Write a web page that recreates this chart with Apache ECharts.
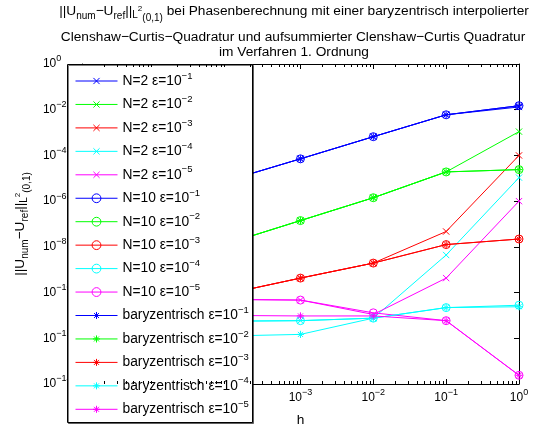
<!DOCTYPE html>
<html><head><meta charset="utf-8">
<script src="https://cdn.jsdelivr.net/npm/echarts@6/dist/echarts.min.js"></script>
<style>html,body{margin:0;padding:0;background:#fff}#c{width:536px;height:432px}</style>
</head><body><div id="c"></div>
<script>
// ---- data ----
const hValues = [1e-6, 1e-5, 1e-4, 1e-3, 1e-2, 1e-1, 1];
const xTickExponents = [-6, -5, -4, -3, -2, -1, 0];
const yTickExponents = [-14, -12, -10, -8, -6, -4, -2, 0];

const n2e1  = [6.6e-8, 7.6e-7, 7.9e-6, 7.1e-5, 6.6e-4, 6.0e-3, 1.32e-2];
const n2e2  = [1.78e-10, 1.58e-9, 1.41e-8, 1.41e-7, 1.41e-6, 1.9e-5, 1.1e-3];
const n2e3  = [3.8e-11, 5.0e-11, 8.9e-11, 4.3e-10, 1.95e-9, 4.7e-8, 1.0e-4];
const n2e4  = [1.78e-11, 7.9e-12, 5.6e-12, 5.9e-12, 7.6e-12, 4.4e-9, 1.07e-5];
const n2e5  = [1.6e-10, 7.9e-11, 5.0e-11, 4.7e-11, 1.1e-11, 4.3e-10, 1.0e-6];
const n10e1 = [6.6e-8, 7.6e-7, 7.9e-6, 7.1e-5, 6.6e-4, 6.0e-3, 1.5e-2];
const n10e2 = [1.78e-10, 1.58e-9, 1.41e-8, 1.41e-7, 1.41e-6, 1.9e-5, 2.4e-5];
const n10e3 = [3.8e-11, 5.0e-11, 8.9e-11, 4.3e-10, 1.95e-9, 1.26e-8, 2.2e-8];
const n10e4 = [1.78e-11, 7.9e-12, 5.6e-12, 5.9e-12, 7.6e-12, 2.2e-11, 2.8e-11];
const n10e5 = [1.6e-10, 7.9e-11, 5.0e-11, 4.7e-11, 1.3e-11, 5.9e-12, 2.4e-14];
const bare1 = [6.6e-8, 7.6e-7, 7.9e-6, 7.1e-5, 6.6e-4, 6.0e-3, 1.5e-2];
const bare2 = [1.78e-10, 1.58e-9, 1.41e-8, 1.41e-7, 1.41e-6, 1.9e-5, 2.4e-5];
const bare3 = [3.8e-11, 5.0e-11, 8.9e-11, 4.3e-10, 1.95e-9, 1.26e-8, 2.2e-8];
const bare4 = [1.1e-12, 1.2e-12, 1.26e-12, 1.48e-12, 7.6e-12, 2.2e-11, 2.4e-11];
const bare5 = [1.0e-11, 1.0e-11, 1.0e-11, 9.5e-12, 9.5e-12, 5.9e-12, 2.4e-14];

const seriesNames = [
  'N=2 ε=10^−1','N=2 ε=10^−2','N=2 ε=10^−3','N=2 ε=10^−4','N=2 ε=10^−5',
  'N=10 ε=10^−1','N=10 ε=10^−2','N=10 ε=10^−3','N=10 ε=10^−4','N=10 ε=10^−5',
  'baryzentrisch ε=10^−1','baryzentrisch ε=10^−2','baryzentrisch ε=10^−3','baryzentrisch ε=10^−4','baryzentrisch ε=10^−5'
];
const seriesValues = [n2e1,n2e2,n2e3,n2e4,n2e5,n10e1,n10e2,n10e3,n10e4,n10e5,bare1,bare2,bare3,bare4,bare5];

// ---- styling ----
const colors = ['#0000ff','#00ff00','#ff0000','#00ffff','#ff00ff'];
const SYM_X = 'path://M0,0M10,10M1.5,1.5L8.5,8.5M8.5,1.5L1.5,8.5';
const SYM_STAR = 'path://M0,0M10,10M5,1L5,9M1,5L9,5M2.2,2.2L7.8,7.8M7.8,2.2L2.2,7.8';
const symbols = [SYM_X, 'circle', SYM_STAR];
const symSizes = [9, 8, 9];
const FONT = 'Liberation Sans, Arial, Helvetica, sans-serif';
const TF = 13.7;

const series = seriesNames.map((name, i) => {
  const g = Math.floor(i / 5), c = colors[i % 5];
  return {
    name, type: 'line',
    data: hValues.map((h, k) => [h, seriesValues[i][k]]),
    symbol: symbols[g], symbolSize: symSizes[g], symbolKeepAspect: true,
    showSymbol: true,
    lineStyle: { color: c, width: 1 },
    itemStyle: { color: 'rgba(0,0,0,0)', borderColor: c, borderWidth: 1 },
    emphasis: { disabled: true },
    animation: false, z: 2
  };
});

// minor ticks on log x axis (axis decoration)
const minorX = [];
for (let e = -6; e < 0; e++) for (let m = 2; m <= 9; m++) minorX.push([m * Math.pow(10, e), 1]);
series.push({
  type: 'custom', data: minorX, silent: true, animation: false, z: 3,
  encode: { x: 0, y: 1 },
  renderItem: (params, api) => {
    const p = api.coord([api.value(0), api.value(1)]);
    const cs = params.coordSys;
    const x = Math.round(p[0]) + 0.5;
    const yb = cs.y + cs.height, yt = cs.y;
    return { type: 'group', children: [
      { type: 'line', shape: { x1: x, y1: yb, x2: x, y2: yb - 3 }, style: { stroke: '#000', lineWidth: 1 } },
      { type: 'line', shape: { x1: x, y1: yt, x2: x, y2: yt + 3 }, style: { stroke: '#000', lineWidth: 1 } }
    ]};
  }
});

const supRich = { fontSize: 9, padding: [0, 0, 10, 0], lineHeight: 9, color: '#000', fontFamily: FONT };
const expLabel = v => {
  const e = Math.round(Math.log10(v));
  return '{b|10}{sup|' + (e < 0 ? '−' + (-e) : e) + '}';
};
const axisRich = { b: { fontSize: 12, lineHeight: 14, color: '#000', fontFamily: FONT }, sup: supRich };

const subStyle = (pad, fs) => ({ fontSize: fs, padding: pad, lineHeight: fs, color: '#000', fontFamily: FONT, fontWeight: 'normal' });
const titleRich = {
  b: { fontSize: TF, lineHeight: 16, color: '#000', fontFamily: FONT, fontWeight: 'normal' },
  s: subStyle([10, 0, 0, 0], 10),
  sL: subStyle([9, 0, 0, 0], 10),
  s2: subStyle([0, 0, 4, 0], 8),
  s3: subStyle([14, 0, 0, 0], 10)
};
const plainTitle = { fontSize: TF, lineHeight: 16, fontWeight: 'normal', color: '#000', fontFamily: FONT };

const axisCommon = {
  type: 'log', logBase: 10,
  axisLine: { show: true, lineStyle: { color: '#000', width: 1 } },
  axisTick: { show: true, inside: true, length: 5, lineStyle: { color: '#000' } },
  splitLine: { show: false }, minorTick: { show: false }
};

const option = {
  animation: false,
  backgroundColor: '#fff',
  textStyle: { fontFamily: FONT },
  title: [
    { text: '{b|||U}{s|num}{b|−U}{s|ref}{b|||}{sL|L}{s2|2}{s3|(0,1)}{b| bei Phasenberechnung mit einer baryzentrisch interpolierter}',
      left: 294, top: 3, textAlign: 'center', padding: 0, textStyle: { fontWeight: 'normal', rich: titleRich } },
    { text: 'Clenshaw−Curtis−Quadratur und aufsummierter Clenshaw−Curtis Quadratur',
      left: 293, top: 29.5, textAlign: 'center', padding: 0, textStyle: plainTitle },
    { text: 'im Verfahren 1. Ordnung',
      left: 294, top: 44.5, textAlign: 'center', padding: 0, textStyle: plainTitle }
  ],
  grid: { left: 69, right: 17, top: 64, bottom: 41, containLabel: false },
  xAxis: [
    Object.assign({}, axisCommon, {
      min: Math.pow(10, xTickExponents[0]), max: Math.pow(10, xTickExponents[xTickExponents.length - 1]), interval: 1,
      name: 'h', nameLocation: 'middle', nameGap: 29,
      nameTextStyle: { fontSize: TF, color: '#000', fontFamily: FONT },
      axisLabel: { show: true, margin: 7, formatter: expLabel, rich: axisRich }
    }),
    Object.assign({}, axisCommon, {
      position: 'top', min: 1e-6, max: 1, interval: 1, axisLabel: { show: false }
    })
  ],
  yAxis: [
    Object.assign({}, axisCommon, {
      min: Math.pow(10, yTickExponents[0]), max: Math.pow(10, yTickExponents[yTickExponents.length - 1]), interval: 2,
      name: '{b|||U}{s|num}{b|−U}{s|ref}{b|||}{sL|L}{s2|2}{s3|(0,1)}',
      nameLocation: 'middle', nameRotate: 90, nameGap: 38,
      nameTextStyle: { rich: titleRich },
      axisLabel: { show: true, margin: 39, align: 'left', formatter: expLabel, rich: axisRich }
    }),
    Object.assign({}, axisCommon, {
      position: 'right', min: 1e-14, max: 1, interval: 2, axisLabel: { show: false }
    })
  ],
  graphic: [{
    type: 'rect', z: 3, silent: true,
    shape: { x: 67.5, y: 64.5, width: 185, height: 358 },
    style: { fill: '#fff', stroke: '#000', lineWidth: 1, shadowColor: 'rgba(0,0,0,0.5)', shadowOffsetX: 1, shadowOffsetY: 1 }
  }],
  legend: {
    data: seriesNames, orient: 'vertical', left: 75, top: 71, height: 420,
    padding: 0, itemWidth: 42, itemHeight: 11, itemGap: 3.45,
    selectedMode: false, z: 4,
    itemStyle: { borderWidth: 1 },
    lineStyle: { width: 1 },
    formatter: name => {
      const m = name.split('^');
      return '{b|' + m[0] + '}{sup|' + m[1] + '}';
    },
    textStyle: { color: '#000', fontFamily: FONT, rich: {
      b: { fontSize: 13.8, lineHeight: 15, color: '#000', fontFamily: FONT },
      sup: { fontSize: 9.5, padding: [0, 0, 10, 0], lineHeight: 9, color: '#000', fontFamily: FONT }
    } }
  },
  series
};
const chart = echarts.init(document.getElementById('c'), null, { renderer: 'canvas' });
chart.setOption(option);
</script></body></html>
